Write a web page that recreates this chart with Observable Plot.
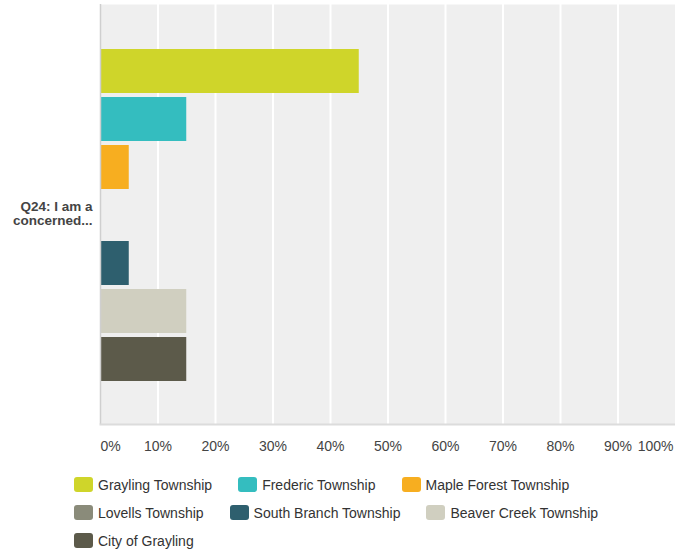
<!DOCTYPE html>
<html>
<head>
<meta charset="utf-8">
<script src="https://cdn.jsdelivr.net/npm/d3@7"></script>
<script src="https://cdn.jsdelivr.net/npm/@observablehq/plot@0.6"></script>
<style>
  html, body { margin: 0; padding: 0; background: #fff; }
  body { width: 675px; height: 552px; overflow: hidden; font-family: Arial, "Liberation Sans", sans-serif; }
  #chart svg { display: block; }
  #legend {
    display: flex; flex-wrap: wrap; column-gap: 26px; row-gap: 11px;
    margin: 16px 0 0 74px; width: 600px;
    font-size: 14px; color: #333;
  }
  .item { display: flex; align-items: center; height: 17px; white-space: nowrap; }
  .sw { width: 19px; height: 15px; border-radius: 3px; margin-right: 5px; }
</style>
</head>
<body>
<div id="chart"></div>
<div id="legend"></div>
<script>
const categories = ["Grayling Township", "Frederic Township", "Maple Forest Township", "Lovells Township", "South Branch Township", "Beaver Creek Township", "City of Grayling"];
const values = [45, 15, 5, 0, 5, 15, 15];
const colors = ["#cfd52a", "#34bdbf", "#f7ae20", "#8a8b7a", "#2e5f6e", "#d0cfc0", "#5c5a4a"];
const xTicks = [0, 10, 20, 30, 40, 50, 60, 70, 80, 90, 100];
const questionLabel = "Q24: I am a\nconcerned...";

const data = categories.map((c, i) => ({category: c, value: values[i]}));
const fmt = d => d + "%";

const plot = Plot.plot({
  width: 675,
  height: 460,
  marginLeft: 100,
  marginRight: 0,
  marginTop: 4,
  marginBottom: 36,
  style: {fontFamily: "Arial, 'Liberation Sans', sans-serif", background: "#fff"},
  x: {domain: [0, 100], axis: null},
  y: {type: "band", domain: categories, range: [47, 383], paddingInner: 4 / 48, paddingOuter: 2 / 48, axis: null},
  color: {domain: categories, range: colors},
  marks: [
    Plot.frame({fill: "#efefef", stroke: null}),
    Plot.ruleX(xTicks.slice(1, -1), {stroke: "#fff", strokeWidth: 2}),
    Plot.barX(data, {x: "value", y: "category", fill: "category"}),
    Plot.ruleX([0], {stroke: "#cfcfcf", strokeWidth: 1.5}),
    Plot.frame({anchor: "bottom", stroke: "#dcdcdc", strokeWidth: 2}),
    Plot.text(xTicks.slice(0, 1), {x: d => d, frameAnchor: "bottom", dy: 26, text: fmt, textAnchor: "start", fontSize: 14, fill: "#444"}),
    Plot.text(xTicks.slice(1, -1), {x: d => d, frameAnchor: "bottom", dy: 26, text: fmt, fontSize: 14, fill: "#444"}),
    Plot.text(xTicks.slice(-1), {x: d => d, frameAnchor: "bottom", dy: 26, text: fmt, textAnchor: "end", dx: -2, fontSize: 14, fill: "#444"}),
    Plot.text([questionLabel], {frameAnchor: "left", dx: -8, dy: -1, textAnchor: "end", text: d => d, fontWeight: "bold", fontSize: 13.5, lineHeight: 1.05, fill: "#444"})
  ]
});
document.getElementById("chart").appendChild(plot);

const legend = document.getElementById("legend");
categories.forEach((c, i) => {
  const item = document.createElement("div");
  item.className = "item";
  const sw = document.createElement("div");
  sw.className = "sw";
  sw.style.background = colors[i];
  const label = document.createElement("span");
  label.textContent = c;
  item.appendChild(sw);
  item.appendChild(label);
  legend.appendChild(item);
});
</script>
</body>
</html>
